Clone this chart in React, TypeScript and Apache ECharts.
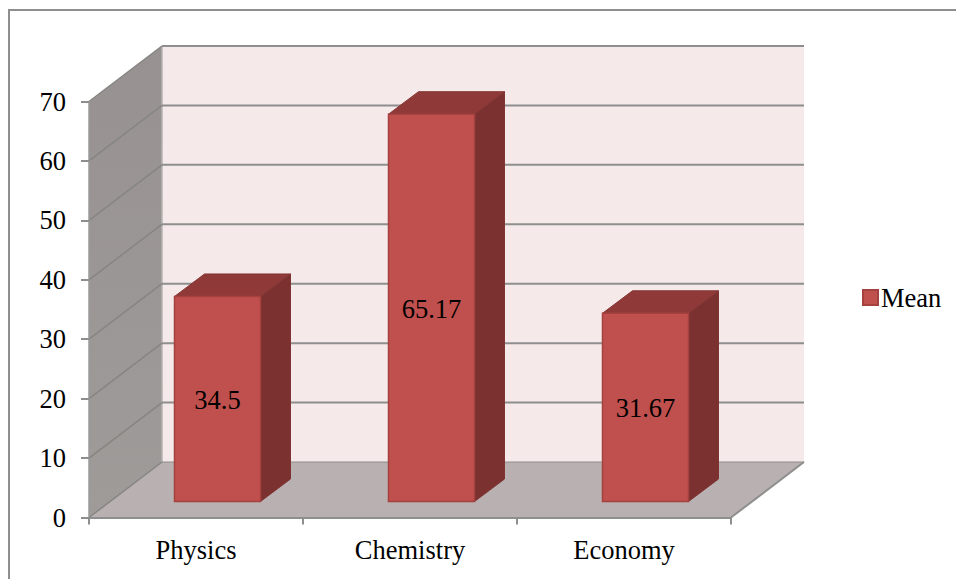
import React, { useEffect, useRef } from "react";
import * as echarts from "echarts";

const categories = ["Physics", "Chemistry", "Economy"];
const means = [34.5, 65.17, 31.67];
const yTicks = [0, 10, 20, 30, 40, 50, 60, 70];
const SERIES_NAME = "Mean";

const FONT = '"Liberation Serif", "Times New Roman", serif';
const FONT_SIZE = 26.5;
const AXIS_GREY = "#8e8e8e";

const WALL_DX = 73;
const WALL_DY = -55.5;
const BAR_DX = 30;
const BAR_DY = -22.5;
const BAR_SHIFT_X = 21.5;
const BAR_SHIFT_Y = -16;
const BAR_WIDTH = 86;

export default function App() {
  const ref = useRef<HTMLDivElement | null>(null);

  useEffect(() => {
    const chart = echarts.init(ref.current!, null, { renderer: "svg" });

    const renderPlanes = (params: any, api: any) => {
      const { x, width } = params.coordSys;
      const y0 = api.coord([0, 0])[1];
      const yMax = api.coord([0, 70])[1];
      const right = x + width;
      return {
        type: "group",
        children: [
          {
            type: "polygon",
            shape: { points: [[x + WALL_DX, yMax + WALL_DY], [right + WALL_DX, yMax + WALL_DY], [right + WALL_DX, y0 + WALL_DY], [x + WALL_DX, y0 + WALL_DY]] },
            style: { fill: "#f5e9e9" },
          },
          {
            type: "polygon",
            shape: { points: [[x, yMax], [x + WALL_DX, yMax + WALL_DY], [x + WALL_DX, y0 + WALL_DY], [x, y0]] },
            style: {
              fill: new echarts.graphic.LinearGradient(0, 0, 0, 1, [
                { offset: 0, color: "#979291" },
                { offset: 1, color: "#9f9b99" },
              ]),
            },
          },
          {
            type: "polygon",
            shape: { points: [[x, y0], [right, y0], [right + WALL_DX, y0 + WALL_DY], [x + WALL_DX, y0 + WALL_DY]] },
            style: { fill: "#b9b1b1" },
          },
          {
            type: "line",
            shape: { x1: x + WALL_DX, y1: yMax + WALL_DY, x2: x + WALL_DX, y2: y0 + WALL_DY },
            style: { stroke: "#b5b3b1", lineWidth: 1.5 },
          },
          {
            type: "line",
            shape: { x1: right, y1: y0, x2: right + WALL_DX, y2: y0 + WALL_DY },
            style: { stroke: AXIS_GREY, lineWidth: 2 },
          },
        ],
      };
    };

    const renderGrid = (params: any, api: any) => {
      const { x, width } = params.coordSys;
      const tick = api.value(0);
      const y = api.coord([0, tick])[1];
      const right = x + width;
      return {
        type: "group",
        children: [
          {
            type: "line",
            shape: { x1: x, y1: y, x2: x + WALL_DX, y2: y + WALL_DY },
            style: { stroke: "#858581", lineWidth: 1.5 },
          },
          {
            type: "line",
            shape: { x1: x + WALL_DX, y1: y + WALL_DY, x2: right + WALL_DX, y2: y + WALL_DY },
            style: { stroke: AXIS_GREY, lineWidth: tick === 0 ? 1.2 : 2 },
          },
        ],
      };
    };

    const renderBar = (_params: any, api: any) => {
      const value = api.value(1);
      const [cx, py] = api.coord([api.value(0), value]);
      const by = api.coord([api.value(0), 0])[1] + BAR_SHIFT_Y;
      const top = py + BAR_SHIFT_Y;
      const l = cx + BAR_SHIFT_X - BAR_WIDTH / 2;
      const r = l + BAR_WIDTH;
      return {
        type: "group",
        children: [
          {
            type: "polygon",
            shape: { points: [[r, top], [r + BAR_DX, top + BAR_DY], [r + BAR_DX, by + BAR_DY], [r, by]] },
            style: { fill: "#7a3130", stroke: "#7f3432", lineWidth: 1 },
          },
          {
            type: "polygon",
            shape: { points: [[l, top], [l + BAR_DX, top + BAR_DY], [r + BAR_DX, top + BAR_DY], [r, top]] },
            style: { fill: "#8f3a38", stroke: "#853533", lineWidth: 1 },
          },
          {
            type: "rect",
            shape: { x: l, y: top, width: BAR_WIDTH, height: by - top },
            style: { fill: "#c0504d", stroke: "#a5423f", lineWidth: 1.5 },
          },
          {
            type: "text",
            style: {
              text: String(value),
              x: (l + r) / 2,
              y: (top + by) / 2 + 1,
              align: "center",
              verticalAlign: "middle",
              fontFamily: FONT,
              fontSize: FONT_SIZE,
              fill: "#000",
            },
          },
        ],
      };
    };

    chart.setOption({
      animation: false,
      backgroundColor: "#fff",
      grid: { left: 89, top: 101.5, width: 642, height: 416 },
      xAxis: {
        type: "category",
        data: categories,
        z: 6,
        axisLine: { lineStyle: { color: AXIS_GREY, width: 2 } },
        axisTick: { show: true, length: 7, lineStyle: { color: AXIS_GREY, width: 2 } },
        axisLabel: { margin: 19, color: "#000", fontFamily: FONT, fontSize: FONT_SIZE },
      },
      yAxis: {
        type: "value",
        min: 0,
        max: 70,
        interval: 10,
        z: 6,
        axisLine: { show: true, lineStyle: { color: "#9a9a9a", width: 1.5 } },
        axisTick: { show: true, length: 8, lineStyle: { color: AXIS_GREY, width: 2 } },
        axisLabel: { margin: 23, color: "#000", fontFamily: FONT, fontSize: FONT_SIZE },
        splitLine: { show: false },
      },
      legend: {
        left: 862,
        top: 284,
        data: [{ name: SERIES_NAME, icon: "rect" }],
        itemWidth: 15,
        itemHeight: 15,
        itemGap: 0,
        padding: 0,
        textStyle: { color: "#000", fontFamily: FONT, fontSize: FONT_SIZE, padding: [0, 0, 0, -2] },
      },
      graphic: [
        {
          type: "rect",
          z: 0,
          silent: true,
          shape: { x: 9, y: 10, width: 1000, height: 640 },
          style: { fill: "transparent", stroke: AXIS_GREY, lineWidth: 2 },
        },
      ],
      series: [
        {
          type: "custom",
          id: "planes",
          z: 1,
          silent: true,
          clip: false,
          renderItem: renderPlanes,
          encode: { x: 0, y: 1 },
          data: [[0, 0]],
        },
        {
          type: "custom",
          id: "grid",
          z: 2,
          silent: true,
          clip: false,
          renderItem: renderGrid,
          encode: { y: 0 },
          data: yTicks.map((t) => [t]),
        },
        {
          type: "custom",
          name: SERIES_NAME,
          z: 4,
          clip: false,
          renderItem: renderBar,
          itemStyle: { color: "#c0504d", borderColor: "#a5423f", borderWidth: 1.5 },
          encode: { x: 0, y: 1 },
          data: means.map((v, i) => [i, v]),
        },
      ],
    });

    return () => chart.dispose();
  }, []);

  return (
    <div
      ref={ref}
      style={{ position: "fixed", left: 0, top: 0, width: 956, height: 579 }}
    />
  );
}
